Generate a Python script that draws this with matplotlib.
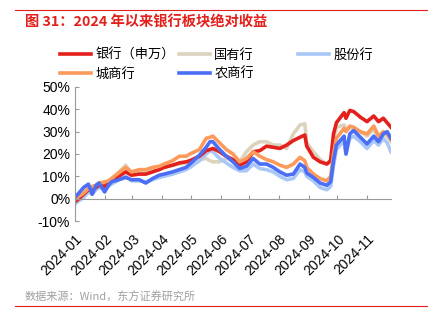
import matplotlib
matplotlib.use('Agg')
import matplotlib.pyplot as plt
import matplotlib.dates as mdates
import pandas as pd

plt.rcParams['font.family'] = ['Liberation Sans', 'Noto Sans CJK SC']

dates = ['2024-01-02', '2024-01-05', '2024-01-10', '2024-01-15', '2024-01-19', '2024-01-23',
         '2024-01-26', '2024-02-01', '2024-02-05', '2024-02-08', '2024-02-23', '2024-02-29',
         '2024-03-08', '2024-03-15', '2024-03-22', '2024-03-29', '2024-04-03', '2024-04-12',
         '2024-04-19', '2024-04-26', '2024-04-30', '2024-05-10', '2024-05-17', '2024-05-21',
         '2024-05-24', '2024-05-31', '2024-06-07', '2024-06-14', '2024-06-21', '2024-06-28',
         '2024-07-05', '2024-07-12', '2024-07-19', '2024-07-26', '2024-08-02', '2024-08-09',
         '2024-08-16', '2024-08-23', '2024-08-28', '2024-08-30', '2024-09-06', '2024-09-13',
         '2024-09-20', '2024-09-24', '2024-09-27', '2024-09-30', '2024-10-08', '2024-10-10',
         '2024-10-14', '2024-10-18', '2024-10-25', '2024-11-01', '2024-11-08', '2024-11-13',
         '2024-11-18', '2024-11-22', '2024-11-26']

bank = [-1, 0, 2, 4, 4, 5, 6, 5.5, 7, 8, 12, 10.5, 11, 11, 12, 13, 14, 15, 16, 16.5, 17,
        19, 21.5, 22, 22.5, 21, 19, 17.5, 15, 16.5, 21, 21.5, 23.5, 23, 22.5, 24, 26, 27.5,
        28.5, 23.5, 18.5, 16.5, 15.5, 17, 29, 34, 38.5, 36, 39.5, 39, 36.5, 34.5, 37, 34.5,
        36, 34, 32]
state = [-1, 0, 2, 4.5, 4, 5.5, 6.5, 6, 7.5, 8.5, 15, 11, 12, 12.5, 13, 13.5, 14, 15, 15.5,
         16, 16.5, 17.5, 18, 17, 16.5, 16.5, 18, 17.5, 16.5, 21, 24, 25.5, 25.5, 24, 24, 22.5,
         29, 33, 33.5, 25, 21, 17.5, 15.5, 17.5, 27, 32, 33, 31, 31.5, 31, 30, 28, 31, 27.5,
         29, 28, 25.5]
joint = [-2, -1, 0.5, 3, 2, 4, 5, 4.5, 5.5, 6.5, 10, 8, 8, 7.5, 8.5, 9.5, 10, 11, 12, 13,
         14, 17, 20, 21.5, 21, 18, 16, 14, 12.5, 12.5, 15.5, 13.5, 13, 12, 10, 8.5, 9, 13, 12,
         10, 8, 5, 4, 5.5, 15, 22, 26, 20, 27, 28, 25.5, 22.5, 26, 24, 27, 25, 21]
city = [0, 1, 2.5, 4.5, 5.5, 6, 7, 7.5, 8, 9, 14, 12, 13, 13, 14, 14.5, 15.5, 17, 19, 19,
        20, 22, 27, 27.5, 28, 25, 22, 20, 16.5, 18, 21, 19, 17.5, 16.5, 15, 14, 15.5, 18.5,
        17, 14, 11, 9, 8, 10, 20, 27, 31.5, 30, 32.5, 32, 30, 29, 32.5, 28, 30, 29, 26.5]
rural = [1, 2.5, 5, 6.5, 2, 6, 7, 3, 6, 7.5, 9.5, 8.5, 8.5, 7, 9, 10.5, 11, 12, 13, 14,
         15.5, 19.5, 23, 25.5, 25.5, 22, 19, 16.5, 13.5, 14.5, 18, 15.5, 15.5, 14, 12, 10.5,
         11, 15.5, 14, 11.5, 9.5, 7, 6, 7.5, 17, 24, 28, 20, 29, 30.5, 27.5, 24.5, 28, 25.5,
         29, 30, 27]

names = ['银行（申万）', '国有行', '股份行', '城商行', '农商行']
colors = ['#e3201b', '#dcd3bf', '#a9c7f7', '#fc9a5c', '#4a6ef5']
month_ticks = pd.date_range('2024-01-01', '2024-11-01', freq='MS')

x = pd.to_datetime(dates)
series = [bank, state, joint, city, rural]

fig = plt.figure(figsize=(4.37, 3.31), dpi=100)
ax = fig.add_axes([0.1716, 0.3323, 0.7231, 0.4049])

lines = {}
# draw order: state, joint, bank, city, rural
for i in [1, 2, 0, 3, 4]:
    ln, = ax.plot(x, series[i], color=colors[i], lw=2.6, label=names[i],
                  solid_joinstyle='round')
    lines[i] = ln

ax.set_ylim(-10, 50)
ax.set_yticks(range(-10, 51, 10))
ax.yaxis.set_major_formatter(plt.FuncFormatter(lambda v, p: '%d%%' % v))
ax.set_xlim(pd.Timestamp('2024-01-01'), pd.Timestamp('2024-11-26'))
ax.set_xticks(month_ticks)
ax.xaxis.set_major_formatter(mdates.DateFormatter('%Y-%m'))

for s in ['top', 'right']:
    ax.spines[s].set_visible(False)
ax.spines['bottom'].set_position(('data', 0))
for s in ['left', 'bottom']:
    ax.spines[s].set_color('#999999')
    ax.spines[s].set_linewidth(0.8)
ax.tick_params(axis='both', direction='in', length=3, color='#999999', labelsize=10)
ax.tick_params(axis='x', pad=24)
for lab in ax.get_xticklabels():
    lab.set_rotation(45)
    lab.set_ha('right')
    lab.set_rotation_mode('anchor')

# legend: three columns placed like the reference
cols = [[0, 3], [1, 4], [2]]
col_x = [53, 172, 291]
for c, xp in zip(cols, col_x):
    fig.legend([lines[i] for i in c], [names[i] for i in c], loc='upper left',
               bbox_to_anchor=(xp / 437, 1 - 42 / 331), frameon=False, borderpad=0,
               handlelength=2.4, handletextpad=0.3, labelspacing=0.45,
               prop={'family': ['Noto Sans CJK SC'], 'size': 9.5})

fig.text(25 / 437, 1 - 22 / 331, '图 31：2024 年以来银行板块绝对收益', color='#e3201b',
         fontsize=10.3, fontweight='bold', va='center', ha='left',
         family=['Noto Sans CJK SC'])
fig.text(25 / 437, 1 - 297 / 331, '数据来源：Wind，东方证券研究所', color='#a0a0a0',
         fontsize=8, va='center', ha='left', family=['Noto Sans CJK SC'])
fig.add_artist(plt.Line2D([15 / 437, 427 / 437], [1 - 10 / 331, 1 - 10 / 331],
                          color='#e3201b', lw=0.8))
fig.add_artist(plt.Line2D([15 / 437, 427 / 437], [1 - 306 / 331, 1 - 306 / 331],
                          color='#e3201b', lw=0.8))

fig.savefig('out.png', dpi=100)
